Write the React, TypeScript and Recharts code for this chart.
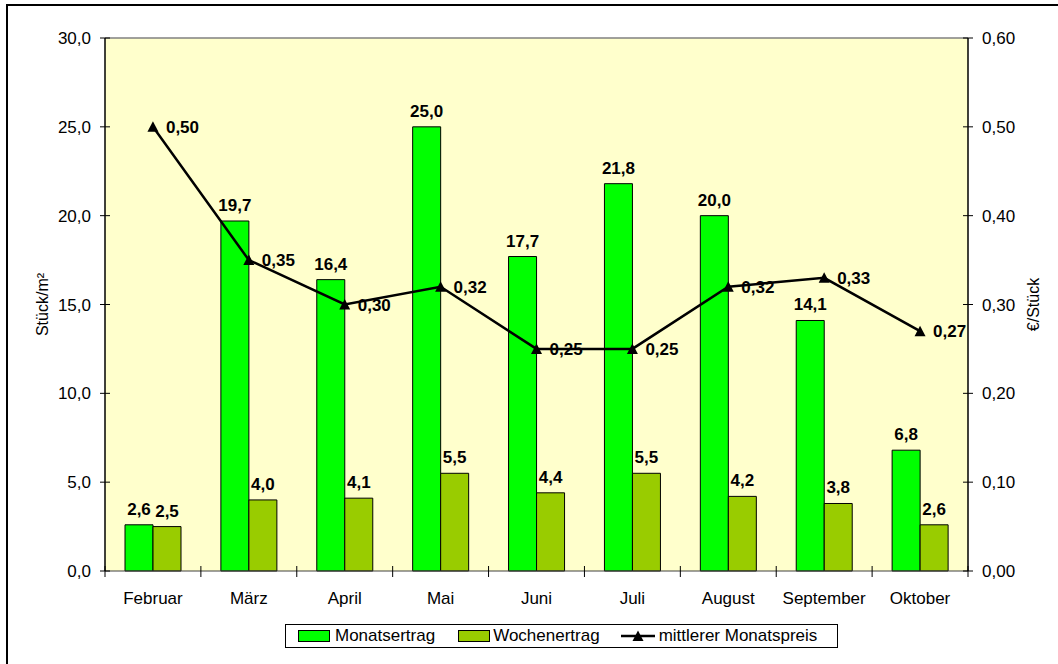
import {
  Bar,
  CartesianGrid,
  ComposedChart,
  LabelList,
  Legend,
  Line,
  ReferenceLine,
  XAxis,
  YAxis,
} from "recharts";

const months = ["Februar", "März", "April", "Mai", "Juni", "Juli", "August", "September", "Oktober"];
const monatsertrag = [2.6, 19.7, 16.4, 25.0, 17.7, 21.8, 20.0, 14.1, 6.8];
const wochenertrag = [2.5, 4.0, 4.1, 5.5, 4.4, 5.5, 4.2, 3.8, 2.6];
const monatspreis = [0.5, 0.35, 0.3, 0.32, 0.25, 0.25, 0.32, 0.33, 0.27];
const leftTicks = [0, 5, 10, 15, 20, 25, 30];
const rightTicks = [0, 0.1, 0.2, 0.3, 0.4, 0.5, 0.6];

const data = months.map((month, i) => ({
  month,
  monatsertrag: monatsertrag[i],
  wochenertrag: wochenertrag[i],
  monatspreis: monatspreis[i],
}));

const FONT = '"Liberation Sans", Arial, sans-serif';
const GREEN = "#00FF00";
const OLIVE = "#99CC00";
const PLOT_BG = "#FFFFCC";

const fmt = (v: number, digits: number) => v.toFixed(digits).replace(".", ",");

function LeftTick(props: any) {
  const { x = 0, y = 0, payload } = props;
  return (
    <g>
      <line x1={x - 5} x2={x + 5} y1={y} y2={y} stroke="#000" />
      <text x={x - 14} y={y + 6} textAnchor="end" fontSize={17} fontFamily={FONT} fill="#000">
        {fmt(payload.value, 1)}
      </text>
    </g>
  );
}

function RightTick(props: any) {
  const { x = 0, y = 0, payload } = props;
  return (
    <g>
      <line x1={x - 5} x2={x + 5} y1={y} y2={y} stroke="#000" />
      <text x={x + 14} y={y + 6} textAnchor="start" fontSize={17} fontFamily={FONT} fill="#000">
        {fmt(payload.value, 2)}
      </text>
    </g>
  );
}

function MonthTick(props: any) {
  const { x = 0, y = 0, payload, index } = props;
  const half = payload?.offset || 863 / 9 / 2;
  return (
    <g>
      <line x1={x - half} x2={x - half} y1={y - 5} y2={y + 6} stroke="#000" />
      {index === months.length - 1 && (
        <line x1={x + half} x2={x + half} y1={y - 5} y2={y + 6} stroke="#000" />
      )}
      <text x={x} y={y + 33} textAnchor="middle" fontSize={17} fontFamily={FONT} fill="#000">
        {payload.value}
      </text>
    </g>
  );
}

function BarValue(props: any) {
  const { x = 0, y = 0, width = 0, value } = props;
  return (
    <text x={x + width / 2} y={y - 10} textAnchor="middle" fontSize={17} fontWeight={700} fontFamily={FONT} fill="#000">
      {fmt(Number(value), 1)}
    </text>
  );
}

function PriceValue(props: any) {
  const { x = 0, y = 0, value } = props;
  return (
    <text x={x + 13} y={y + 6} textAnchor="start" fontSize={17} fontWeight={700} fontFamily={FONT} fill="#000">
      {fmt(Number(value), 2)}
    </text>
  );
}

function Triangle(props: any) {
  const { cx, cy } = props;
  if (cx == null || cy == null) return null;
  return <polygon points={`${cx},${cy - 5.5} ${cx + 5.5},${cy + 5} ${cx - 5.5},${cy + 5}`} fill="#000" />;
}

function AxisTitle({ viewBox, text, dx }: { viewBox?: any; text: string; dx: number }) {
  const { x = 0, y = 0, height = 0 } = viewBox || {};
  const cx = x + dx;
  const cy = y + height / 2;
  return (
    <text x={cx} y={cy} transform={`rotate(-90 ${cx} ${cy})`} textAnchor="middle" dominantBaseline="central" fontSize={16} fontFamily={FONT} fill="#000">
      {text}
    </text>
  );
}

function LegendBox() {
  const swatch = (color: string) => (
    <span style={{ display: "inline-block", width: 30, height: 10, background: color, border: "1px solid #000" }} />
  );
  return (
    <div
      style={{
        boxSizing: "border-box",
        height: 24,
        border: "1px solid #000",
        background: "#fff",
        display: "flex",
        alignItems: "center",
        paddingLeft: 12,
        fontFamily: FONT,
        fontSize: 17,
        whiteSpace: "nowrap",
        color: "#000",
      }}
    >
      {swatch(GREEN)}
      <span style={{ marginLeft: 5, marginRight: 23 }}>Monatsertrag</span>
      {swatch(OLIVE)}
      <span style={{ marginLeft: 3, marginRight: 21 }}>Wochenertrag</span>
      <svg width={34} height={14} style={{ display: "block" }}>
        <line x1={0} x2={34} y1={7} y2={7} stroke="#000" strokeWidth={2.5} />
        <polygon points="17,1.5 22.5,12 11.5,12" fill="#000" />
      </svg>
      <span style={{ marginLeft: 4 }}>mittlerer Monatspreis</span>
    </div>
  );
}

export default function App() {
  return (
    <div style={{ position: "absolute", left: 0, top: 0, width: 1058, height: 664, overflow: "hidden", background: "#fff" }}>
      <div
        style={{
          position: "absolute",
          left: 6,
          top: 4,
          width: 1200,
          height: 800,
          borderTop: "2px solid #000",
          borderLeft: "2px solid #000",
        }}
      />
      <div style={{ position: "absolute", left: 0, top: 0 }}>
        <ComposedChart
          width={1058}
          height={664}
          data={data}
          margin={{ top: 38, right: 20, bottom: 53, left: 60 }}
          barGap={0}
          barSize={28}
        >
          <CartesianGrid yAxisId="left" fill={PLOT_BG} horizontal={false} vertical={false} />
          <XAxis
            dataKey="month"
            tickLine={false}
            tickSize={0}
            tickMargin={0}
            height={40}
            stroke="#404040"
            tick={<MonthTick />}
            interval={0}
          />
          <YAxis
            yAxisId="left"
            domain={[0, 30]}
            ticks={leftTicks}
            width={45}
            tickLine={false}
            tickSize={0}
            tickMargin={0}
            stroke="#000"
            strokeWidth={1.5}
            tick={<LeftTick />}
            label={<AxisTitle text="Stück/m²" dx={-18} />}
          />
          <YAxis
            yAxisId="right"
            orientation="right"
            domain={[0, 0.6]}
            ticks={rightTicks}
            width={70}
            tickLine={false}
            tickSize={0}
            tickMargin={0}
            stroke="#000"
            strokeWidth={1.5}
            tick={<RightTick />}
            label={<AxisTitle text="€/Stück" dx={65} />}
          />
          <ReferenceLine yAxisId="left" y={30} stroke="#808080" strokeWidth={1.5} />
          <Legend
            layout="horizontal"
            verticalAlign="middle"
            align="center"
            content={<LegendBox />}
            wrapperStyle={{ left: 285, top: 624, width: 553, height: 24 }}
          />
          <Bar yAxisId="left" dataKey="monatsertrag" name="Monatsertrag" fill={GREEN} stroke="#000" strokeWidth={1} isAnimationActive={false}>
            <LabelList dataKey="monatsertrag" content={<BarValue />} />
          </Bar>
          <Bar yAxisId="left" dataKey="wochenertrag" name="Wochenertrag" fill={OLIVE} stroke="#000" strokeWidth={1} isAnimationActive={false}>
            <LabelList dataKey="wochenertrag" content={<BarValue />} />
          </Bar>
          <Line
            yAxisId="right"
            dataKey="monatspreis"
            name="mittlerer Monatspreis"
            type="linear"
            stroke="#000"
            strokeWidth={2.5}
            dot={<Triangle />}
            activeDot={false}
            isAnimationActive={false}
          >
            <LabelList dataKey="monatspreis" content={<PriceValue />} />
          </Line>
        </ComposedChart>
      </div>
    </div>
  );
}
